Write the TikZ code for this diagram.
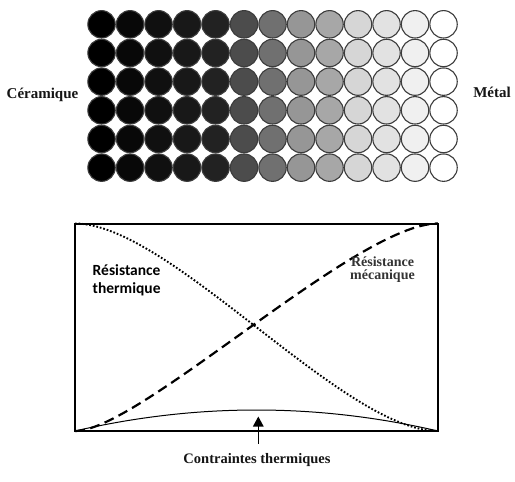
\documentclass[tikz,border=0pt]{standalone}
\usepackage{fontspec}
\setmainfont{Liberation Serif}
\newfontfamily\carlito{Carlito}
\usetikzlibrary{arrows.meta}
\definecolor{rimgrey}{HTML}{3C3C3C}
\definecolor{txtdark}{HTML}{151515}
\definecolor{txtgrey}{HTML}{333333}
\begin{document}
\begin{tikzpicture}[x=1pt,y=-1pt,
  ball/.style={circle, draw=rimgrey, line width=1.1pt, minimum size=27.4pt, inner sep=0pt},
  sidelabel/.style={anchor=base, inner sep=0pt, text=txtdark, font=\fontsize{15}{18}\selectfont\bfseries},
  plotbox/.style={draw=black, line width=2pt, minimum width=363pt, minimum height=207.5pt, inner sep=0pt, outer sep=0pt},
  dotcurve/.style={line width=1.9pt, dash pattern=on 1.7pt off 1.9pt},
  dashcurve/.style={line width=2.2pt, dash pattern=on 10pt off 5.5pt},
  stresscurve/.style={line width=1pt},
  serifnote/.style={inner sep=0pt, align=center, font=\fontsize{14}{13}\selectfont\bfseries},
  calnote/.style={inner sep=0pt, align=left, font=\carlito\fontsize{15.5}{18}\selectfont\bfseries},
  pointer/.style={line width=1.3pt, -{Triangle[length=10pt,width=10.5pt]}}
]
\useasboundingbox (0,0) rectangle (515,482);
\fill[white] (0,0) rectangle (515,482);
% grid of particles
\foreach \g [count=\i] in {0,8,16,24,34,76,112,150,167,214,226,240,255}{
  \definecolor{cc}{RGB}{\g,\g,\g}
  \foreach \j in {1,...,6}{
    \node[ball, fill=cc] (b-\i-\j) at ({101.55+28.5*(\i-1)},{24.3+28.67*(\j-1)}) {};
  }
}
\node[sidelabel] (ceram) at (42.5,98.3) {Céramique};
\node[sidelabel] (metal) at (492,97.5) {Métal};
% plot
\node[plotbox] (box) at (256.5,327.25) {};
\draw[dotcurve] (box.north west) .. controls (170,223.5) and (343,431) .. (box.south east);
\draw[dashcurve] (box.south west) .. controls (139.5,431) and (356.5,223.5) .. (box.north east);
\draw[stresscurve] (box.south west) .. controls (196,403) and (317,403) .. (box.south east);
\node[calnote, anchor=base west] (rth) at (92.5,293) {Résistance\\thermique};
\node[serifnote, text=txtgrey, anchor=base] (rmec) at (382.5,279.3) {Résistance\\mécanique};
\node[serifnote, text=txtdark, anchor=base, font=\fontsize{14.5}{17}\selectfont\bfseries] (ctr) at (257,463) {Contraintes thermiques};
\coordinate (arrbase) at (258.3,443.5);
\coordinate (arrtip) at (258.3,416.5);
\draw[pointer] (arrbase) -- (arrtip);
\end{tikzpicture}
\end{document}
